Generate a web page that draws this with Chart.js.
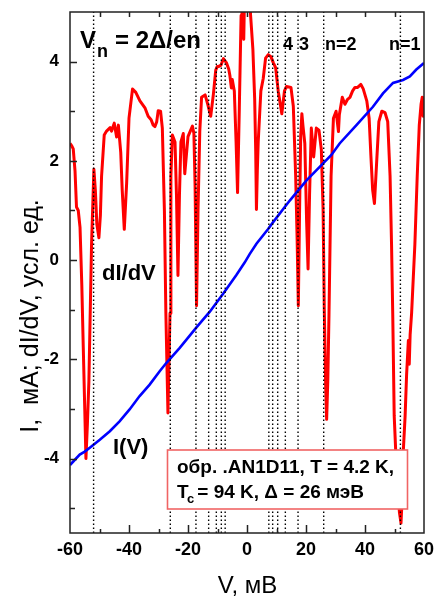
<!DOCTYPE html>
<html>
<head>
<meta charset="utf-8">
<script src="https://cdn.jsdelivr.net/npm/chart.js@4.4.1/dist/chart.umd.min.js"></script>
<style>html,body{margin:0;padding:0;background:#fff}canvas{display:block}</style>
</head>
<body>
<canvas id="c" width="436" height="596"></canvas>
<script>
// dI/dV curve (arb. units) versus bias V, mV
const biasDidv = [
  -60.0,-59.4,-58.9,-58.3,-57.8,-57.2,-56.6,-56.0,-55.5,-55.0,-54.6,-54.1,-53.6,-52.7,-51.9,-51.4,-50.9,-50.2,-49.7,-49.3,
  -48.4,-47.6,-46.4,-45.9,-45.0,-44.2,-43.6,-42.8,-42.3,-41.6,-40.8,-40.0,-38.8,-37.7,-36.3,-34.6,-33.5,-32.5,-31.8,-31.2,
  -30.6,-30.1,-29.3,-28.7,-28.0,-27.5,-26.8,-26.1,-25.8,-25.3,-24.4,-23.9,-23.4,-22.9,-22.4,-21.6,-21.1,-20.0,-18.5,-18.0,
  -17.6,-17.1,-16.6,-16.0,-15.4,-14.2,-13.3,-12.3,-11.4,-10.6,-10.1,-9.7,-8.8,-8.0,-7.0,-6.2,-5.8,-5.3,-5.0,-4.3,
  -3.7,-3.2,-2.6,-2.0,-1.7,-1.4,-1.1,-0.8,0.0,0.8,1.2,2.0,2.6,2.95,3.2,3.5,3.8,4.7,5.5,6.3,
  7.2,8.1,8.9,9.7,10.6,11.8,12.7,13.4,14.9,15.7,16.5,17.0,17.4,17.8,18.2,18.6,19.0,19.6,20.2,20.7,
  21.2,21.8,22.6,23.5,24.4,25.2,25.8,26.2,26.7,27.0,27.4,27.8,28.5,29.3,30.2,31.0,31.3,32.3,33.2,34.1,
  34.9,35.8,36.6,37.5,38.6,39.4,40.6,41.4,42.0,42.6,43.2,44.0,44.7,45.7,46.8,47.7,48.5,49.0,49.4,49.9,
  50.4,51.1,51.7,52.2,52.6,53.0,53.6,54.1,54.7,55.0,55.3,55.8,56.9,57.7,58.4,59.0,59.4,59.7,60.0
];
const didv = [
  2.35,2.30,2.24,1.80,1.07,1.00,0.66,-0.50,-1.76,-3.00,-4.00,-3.30,-2.45,0.31,1.83,1.40,0.72,0.45,0.90,1.69,
  2.52,2.60,2.67,2.60,2.76,2.48,2.72,2.17,1.41,0.62,1.55,2.86,3.45,3.38,3.21,3.07,2.90,2.83,2.72,2.69,
  2.79,3.01,3.00,2.66,1.00,-1.07,-3.08,-1.07,1.69,2.52,2.38,1.30,-0.31,1.30,2.38,2.55,1.74,2.49,2.70,2.55,
  1.50,-0.92,1.00,2.60,3.28,3.33,3.14,2.90,3.34,3.83,3.90,3.90,3.93,4.06,3.98,3.85,3.72,3.47,3.64,3.41,
  2.38,1.36,3.07,4.93,5.50,4.60,4.45,5.50,5.90,5.60,4.95,4.24,3.25,2.20,1.02,1.80,2.38,3.41,3.66,4.07,
  4.14,4.10,3.98,3.88,3.40,2.95,3.41,3.50,3.48,3.10,1.69,0.40,-0.92,0.90,2.50,2.95,2.69,2.35,0.80,-0.18,
  1.30,2.66,2.08,2.66,2.62,2.22,1.00,-1.00,-2.60,-3.21,-2.40,-1.07,1.69,2.86,3.00,2.59,2.93,3.28,3.14,3.24,
  3.28,3.41,3.48,3.48,3.54,3.45,3.21,2.86,2.10,1.41,1.14,2.03,2.79,3.00,2.97,2.79,1.69,0.31,-1.07,-3.14,
  -3.83,-4.66,-5.10,-5.30,-4.80,-3.83,-3.14,-2.31,-1.62,-2.10,-1.50,-1.07,0.31,1.69,2.72,3.14,3.28,2.90,3.30
];

// I(V) curve, mA
const biasIv = [
  -60.0,-56.7,-55.0,-53.3,-49.9,-46.5,-43.2,-39.8,-36.4,-33.0,-29.6,-27.3,-22.8,-17.2,-12.6,-8.1,-3.6,-0.8,
  0.9,3.2,7.1,8.8,12.8,14.5,20.1,25.8,28.6,31.4,37.1,42.7,46.1,49.5,52.9,55.2,57.4,60.0
];
const currentIv = [
  -4.13,-3.92,-3.86,-3.78,-3.62,-3.45,-3.25,-3.01,-2.74,-2.51,-2.24,-2.07,-1.77,-1.36,-1.04,-0.68,-0.30,-0.05,
  0.12,0.33,0.62,0.76,1.07,1.20,1.60,1.95,2.12,2.35,2.72,3.09,3.36,3.57,3.63,3.70,3.84,3.97
];

// Harmonic gap positions V_n = 2Δ/en, n = 1…7, mV
const harmonicBias = [-52, -26, -17.3, -13, -10.4, -8.7, -7.4, 7.4, 8.7, 10.4, 13, 17.3, 26, 52];

// Axes
const xRange = [-60, 60];
const yRange = [-5.5, 5];
const xTickLabels = [-60, -40, -20, 0, 20, 40, 60];
const yTickLabels = [-4, -2, 0, 2, 4];
const xTickMarks = [-50, -40, -30, -20, -10, 0, 10, 20, 30, 40, 50];
const yTickMarks = [-5, -4, -3, -2, -1, 0, 1, 2, 3, 4];

const FONT = '"Liberation Sans", Arial, Helvetica, sans-serif';

function pts(xs, ys) { return xs.map((v, i) => ({ x: v, y: ys[i] })); }

const harmonicSets = harmonicBias.map(v => ({
  data: [{ x: v, y: yRange[0] }, { x: v, y: yRange[1] }],
  borderColor: '#000',
  borderWidth: 1.4,
  borderDash: [1.4, 2.6],
  pointRadius: 0,
  order: 0,
  clip: 0
}));

// Frame, inward ticks, captions and the sample box
const decor = {
  id: 'decor',
  afterDatasetsDraw(chart) {
    const { ctx, chartArea: a, scales: { x, y } } = chart;
    const X = v => x.getPixelForValue(v);
    const Y = v => y.getPixelForValue(v);
    ctx.save();

    // frame
    ctx.strokeStyle = '#222';
    ctx.lineWidth = 1.5;
    ctx.strokeRect(a.left, a.top, a.right - a.left, a.bottom - a.top);

    // ticks
    ctx.beginPath();
    xTickMarks.forEach(v => {
      const px = Math.round(X(v)) + 0.5;
      const len = v % 20 === 0 ? 8 : 4;
      ctx.moveTo(px, a.bottom); ctx.lineTo(px, a.bottom - len);
      ctx.moveTo(px, a.top); ctx.lineTo(px, a.top + 5);
    });
    yTickMarks.forEach(v => {
      const py = Math.round(Y(v)) + 0.5;
      const len = v % 2 === 0 ? 7 : 5;
      ctx.moveTo(a.left, py); ctx.lineTo(a.left + len, py);
    });
    ctx.stroke();

    ctx.fillStyle = '#000';
    ctx.textAlign = 'left';
    ctx.textBaseline = 'alphabetic';

    // V_n = 2Δ/en
    ctx.font = 'bold 24px ' + FONT;
    ctx.fillText('V', 80, 48);
    ctx.font = 'bold 18px ' + FONT;
    ctx.fillText('n', 97, 57);
    ctx.font = 'bold 24px ' + FONT;
    ctx.fillText('= 2Δ/en', 115, 48);

    // harmonic numbers
    ctx.font = 'bold 18px ' + FONT;
    ctx.fillText('4', 283, 50);
    ctx.fillText('3', 299, 50);
    ctx.fillText('n=2', 325, 50);
    ctx.fillText('n=1', 389, 50);

    // curve names
    ctx.font = 'bold 22px ' + FONT;
    ctx.fillText('dI/dV', 102, 280);
    ctx.fillText('I(V)', 113, 454);

    // sample box
    ctx.fillStyle = '#fff';
    ctx.fillRect(167.5, 450, 240, 59);
    ctx.strokeStyle = 'rgb(240,100,100)';
    ctx.lineWidth = 1.6;
    ctx.strokeRect(167.5, 450, 240, 59);
    ctx.fillStyle = '#000';
    ctx.font = 'bold 19px ' + FONT;
    ctx.fillText('обр. .AN1D11, T = 4.2 K,', 177, 473);
    ctx.fillText('T', 177, 498);
    ctx.font = 'bold 13px ' + FONT;
    ctx.fillText('c', 187, 503);
    ctx.font = 'bold 19px ' + FONT;
    ctx.fillText(' = 94 K, Δ = 26 мэВ', 192, 498);

    // axis titles
    ctx.font = '24px ' + FONT;
    ctx.textAlign = 'center';
    ctx.fillText('V, мВ', 247.5, 593);
    ctx.save();
    ctx.translate(38, 316);
    ctx.rotate(-Math.PI / 2);
    ctx.font = '25px ' + FONT;
    ctx.fillText('I,  мА; dI/dV, усл. ед.', 0, 0);
    ctx.restore();

    ctx.restore();
  }
};

new Chart(document.getElementById('c'), {
  type: 'line',
  data: {
    datasets: [
      ...harmonicSets,
      {
        data: pts(biasIv, currentIv),
        borderColor: '#0000ff',
        borderWidth: 2.6,
        pointRadius: 0,
        order: 1
      },
      {
        data: pts(biasDidv, didv),
        borderColor: '#ff0000',
        borderWidth: 3,
        pointRadius: 0,
        borderJoinStyle: 'round',
        order: 2,
        clip: 0
      }
    ]
  },
  options: {
    responsive: false,
    animation: false,
    events: [],
    layout: { padding: { top: 12, right: 12, left: 0, bottom: 0 } },
    plugins: { legend: { display: false }, tooltip: { enabled: false } },
    scales: {
      x: {
        type: 'linear',
        min: xRange[0], max: xRange[1],
        afterBuildTicks: s => { s.ticks = xTickLabels.map(v => ({ value: v })); },
        afterFit: s => { s.height = 63; s.paddingLeft = 0; s.paddingRight = 0; },
        grid: { display: false, drawTicks: false },
        border: { display: false },
        ticks: {
          autoSkip: false, maxRotation: 0, padding: 6, color: '#000',
          font: { family: FONT, size: 18, weight: 'bold' },
          callback: v => String(v)
        }
      },
      y: {
        type: 'linear',
        min: yRange[0], max: yRange[1],
        afterBuildTicks: s => { s.ticks = yTickLabels.map(v => ({ value: v })); },
        afterFit: s => { s.width = 70; s.paddingTop = 0; s.paddingBottom = 0; },
        grid: { display: false, drawTicks: false },
        border: { display: false },
        ticks: {
          autoSkip: false, padding: 11, color: '#000',
          font: { family: FONT, size: 17, weight: 'bold' },
          callback: v => String(v)
        }
      }
    }
  },
  plugins: [decor]
});
</script>
</body>
</html>
